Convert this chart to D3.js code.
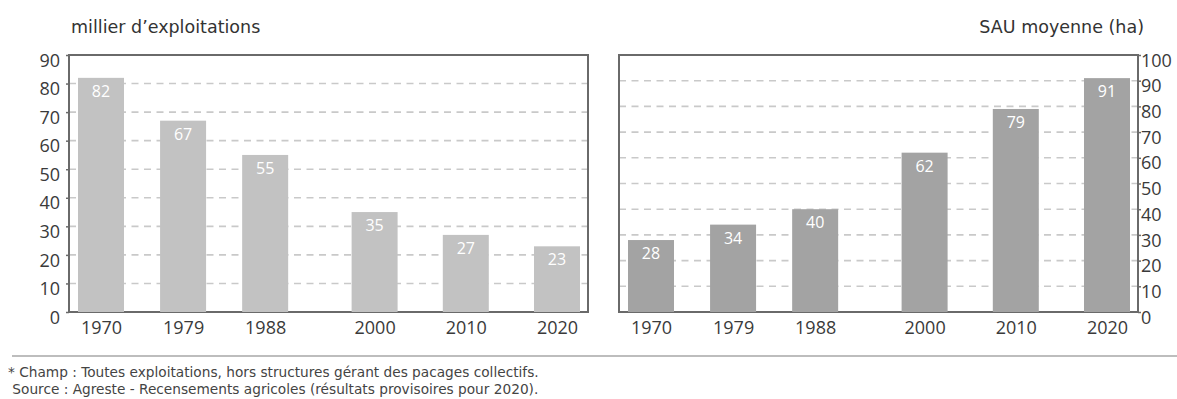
<!DOCTYPE html>
<html lang="fr">
<head>
<meta charset="utf-8">
<script src="https://cdn.jsdelivr.net/npm/d3@7"></script>
<style>
  html, body { margin: 0; padding: 0; background: #fff; }
  svg { display: block; font-family: "Open Sans", "DejaVu Sans", sans-serif; }
</style>
</head>
<body>
<svg id="chart" width="1177" height="399"></svg>
<script>
// Recensements agricoles: years surveyed
const years = [1970, 1979, 1988, 2000, 2010, 2020];
// Nombre d'exploitations (milliers)
const exploitations = [82, 67, 55, 35, 27, 23];
// Surface agricole utile moyenne par exploitation (ha)
const sauMoyenne = [28, 34, 40, 62, 79, 91];
// Tick values for each panel
const ticksLeft = [0, 10, 20, 30, 40, 50, 60, 70, 80, 90];
const ticksRight = [0, 10, 20, 30, 40, 50, 60, 70, 80, 90, 100];

const svg = d3.select("#chart");

const plotTop = 55, plotBottom = 312;
const barW = 46;
const wideFont = "\"DejaVu Sans\", sans-serif";

function panel(opts) {
  const { x0, x1, values, ticks, max, color, side, title } = opts;
  const g = svg.append("g");

  const x = d3.scaleLinear().domain([1970, 2020]).range([x0 + 32, x1 - 31]);
  const y = d3.scaleLinear().domain([0, max]).range([plotBottom, plotTop]);

  // dashed gridlines
  g.append("g").selectAll("line")
    .data(ticks.filter(t => t > 0 && t < max))
    .join("line")
    .attr("x1", x0).attr("x2", x1)
    .attr("y1", d => y(d)).attr("y2", d => y(d))
    .attr("stroke", "#c9c9c9")
    .attr("stroke-width", 1.6)
    .attr("stroke-dasharray", "7,5.5");

  // frame
  g.append("rect")
    .attr("x", x0).attr("y", plotTop)
    .attr("width", x1 - x0).attr("height", plotBottom - plotTop)
    .attr("fill", "none")
    .attr("stroke", "#6a6a6a")
    .attr("stroke-width", 2);

  // value axis
  const axis = side === "left"
    ? d3.axisLeft(y).tickValues(ticks).tickSize(3).tickPadding(6)
    : d3.axisRight(y).tickValues(ticks).tickSize(3).tickPadding(0);
  const ax = g.append("g")
    .attr("transform", `translate(${side === "left" ? x0 : x1},0)`)
    .call(axis);
  ax.select(".domain").remove();
  ax.selectAll(".tick line").attr("stroke", "#6a6a6a").attr("stroke-width", 1.5);
  ax.selectAll(".tick text")
    .attr("fill", "#3a3a3a")
    .attr("font-size", 18)
    .attr("font-family", "\"Open Sans\", sans-serif")
    .attr("dy", "0.62em");

  // bars
  const data = years.map((yr, i) => ({ yr, v: values[i] }));
  g.append("g").selectAll("rect")
    .data(data)
    .join("rect")
    .attr("x", d => x(d.yr) - barW / 2)
    .attr("width", barW)
    .attr("y", d => y(d.v))
    .attr("height", d => plotBottom - y(d.v))
    .attr("fill", color);

  // value labels inside bars
  g.append("g").selectAll("text")
    .data(data)
    .join("text")
    .attr("x", d => x(d.yr))
    .attr("y", d => y(d.v) + 19)
    .attr("text-anchor", "middle")
    .attr("fill", "#fff")
    .attr("font-size", 16)
    .text(d => d.v);

  // year axis
  const xa = g.append("g")
    .attr("transform", `translate(0,${plotBottom})`)
    .call(d3.axisBottom(x).tickValues(years).tickFormat(d3.format("d")).tickSize(0).tickPadding(9));
  xa.select(".domain").remove();
  xa.selectAll(".tick text")
    .attr("fill", "#3a3a3a")
    .attr("font-size", 18)
    .attr("font-family", "\"Open Sans\", sans-serif");

  // unit title
  svg.append("text")
    .attr("x", side === "left" ? x0 + 2 : x1 + 6)
    .attr("y", 33)
    .attr("text-anchor", side === "left" ? "start" : "end")
    .attr("fill", "#333")
    .attr("font-family", wideFont)
    .attr("font-size", 17.5)
    .text(title);
}

panel({ x0: 69, x1: 588, values: exploitations, ticks: ticksLeft, max: 90,
        color: "#c2c2c2", side: "left", title: "millier d\u2019exploitations" });
panel({ x0: 619, x1: 1138, values: sauMoyenne, ticks: ticksRight, max: 100,
        color: "#a3a3a3", side: "right", title: "SAU moyenne (ha)" });

// separator and notes
svg.append("line")
  .attr("x1", 12).attr("x2", 1177)
  .attr("y1", 356).attr("y2", 356)
  .attr("stroke", "#bdbdbd").attr("stroke-width", 2);

const notes = [
  "* Champ : Toutes exploitations, hors structures g\u00e9rant des pacages collectifs.",
  " Source : Agreste - Recensements agricoles (r\u00e9sultats provisoires pour 2020)."
];
svg.append("g").selectAll("text")
  .data(notes)
  .join("text")
  .attr("x", 8)
  .attr("y", (d, i) => 377 + i * 17)
  .attr("fill", "#444")
  .attr("font-family", wideFont)
  .attr("font-size", 13.7)
  .attr("xml:space", "preserve")
  .style("white-space", "pre")
  .text(d => d);
</script>
</body>
</html>
